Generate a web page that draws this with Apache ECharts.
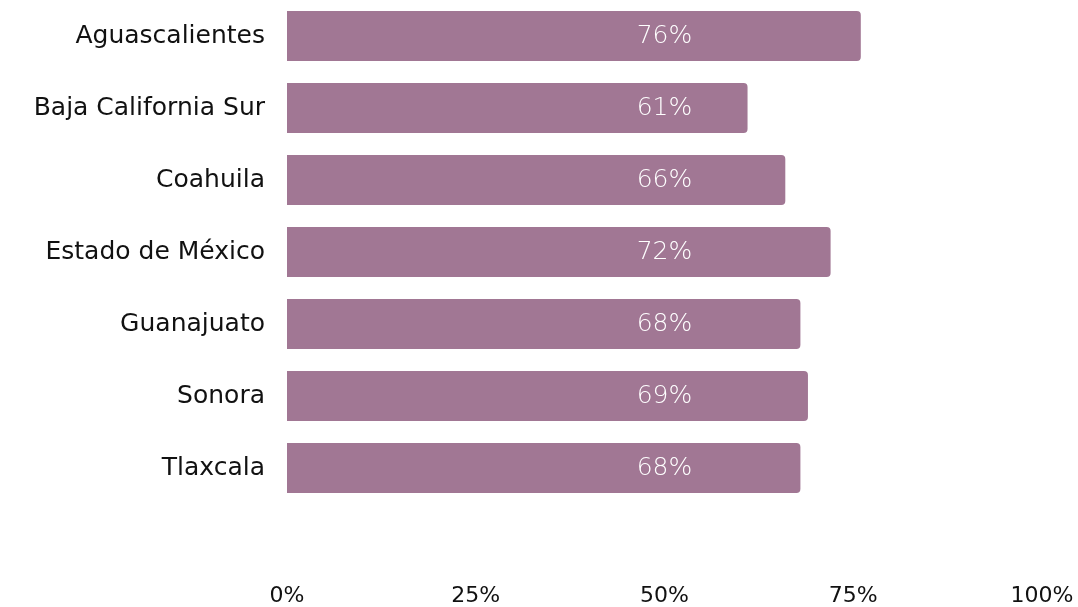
<!DOCTYPE html>
<html>
<head>
<meta charset="utf-8">
<style>
  html, body { margin: 0; padding: 0; background: #ffffff; }
  #chart { width: 1078px; height: 607px; }
</style>
<script src="https://cdn.jsdelivr.net/npm/echarts@6/dist/echarts.min.js"></script>
</head>
<body>
<div id="chart"></div>
<script>
var states = ['Aguascalientes', 'Baja California Sur', 'Coahuila', 'Estado de México', 'Guanajuato', 'Sonora', 'Tlaxcala'];
var shares = [76, 61, 66, 72, 68, 69, 68];
var fullScale = [100, 100, 100, 100, 100, 100, 100];

var chart = echarts.init(document.getElementById('chart'), null, { renderer: 'canvas' });
var fontFamily = '"DejaVu Sans", "Noto Sans", sans-serif';

chart.setOption({
    animation: false,
    grid: {
        left: 287,
        right: 36,
        top: 0,
        bottom: 103,
        containLabel: false
    },
    xAxis: {
        type: 'value',
        min: 0,
        max: 100,
        interval: 25,
        axisLine: { show: false },
        axisTick: { show: false },
        splitLine: { show: false },
        axisLabel: {
            margin: 81,
            color: '#111111',
            fontFamily: fontFamily,
            fontSize: 22,
            formatter: '{value}%'
        }
    },
    yAxis: {
        type: 'category',
        data: states,
        inverse: true,
        axisLine: { show: false },
        axisTick: { show: false },
        axisLabel: {
            margin: 22,
            color: '#111111',
            fontFamily: fontFamily,
            fontSize: 25
        }
    },
    series: [
        {
            type: 'bar',
            data: shares,
            barWidth: 50,
            itemStyle: {
                color: '#a17794',
                borderRadius: [0, 4, 4, 0]
            },
            silent: true
        },
        {
            // transparent full-width bar so the value label sits at the middle of the axis
            type: 'bar',
            data: fullScale,
            barWidth: 50,
            barGap: '-100%',
            itemStyle: { color: 'rgba(0,0,0,0)' },
            silent: true,
            z: 3,
            label: {
                show: true,
                position: 'inside',
                color: '#ffffff',
                fontFamily: fontFamily,
                fontWeight: 200,
                fontSize: 25,
                formatter: function (p) {
                    return shares[p.dataIndex] + '%';
                }
            }
        }
    ]
});
</script>
</body>
</html>
